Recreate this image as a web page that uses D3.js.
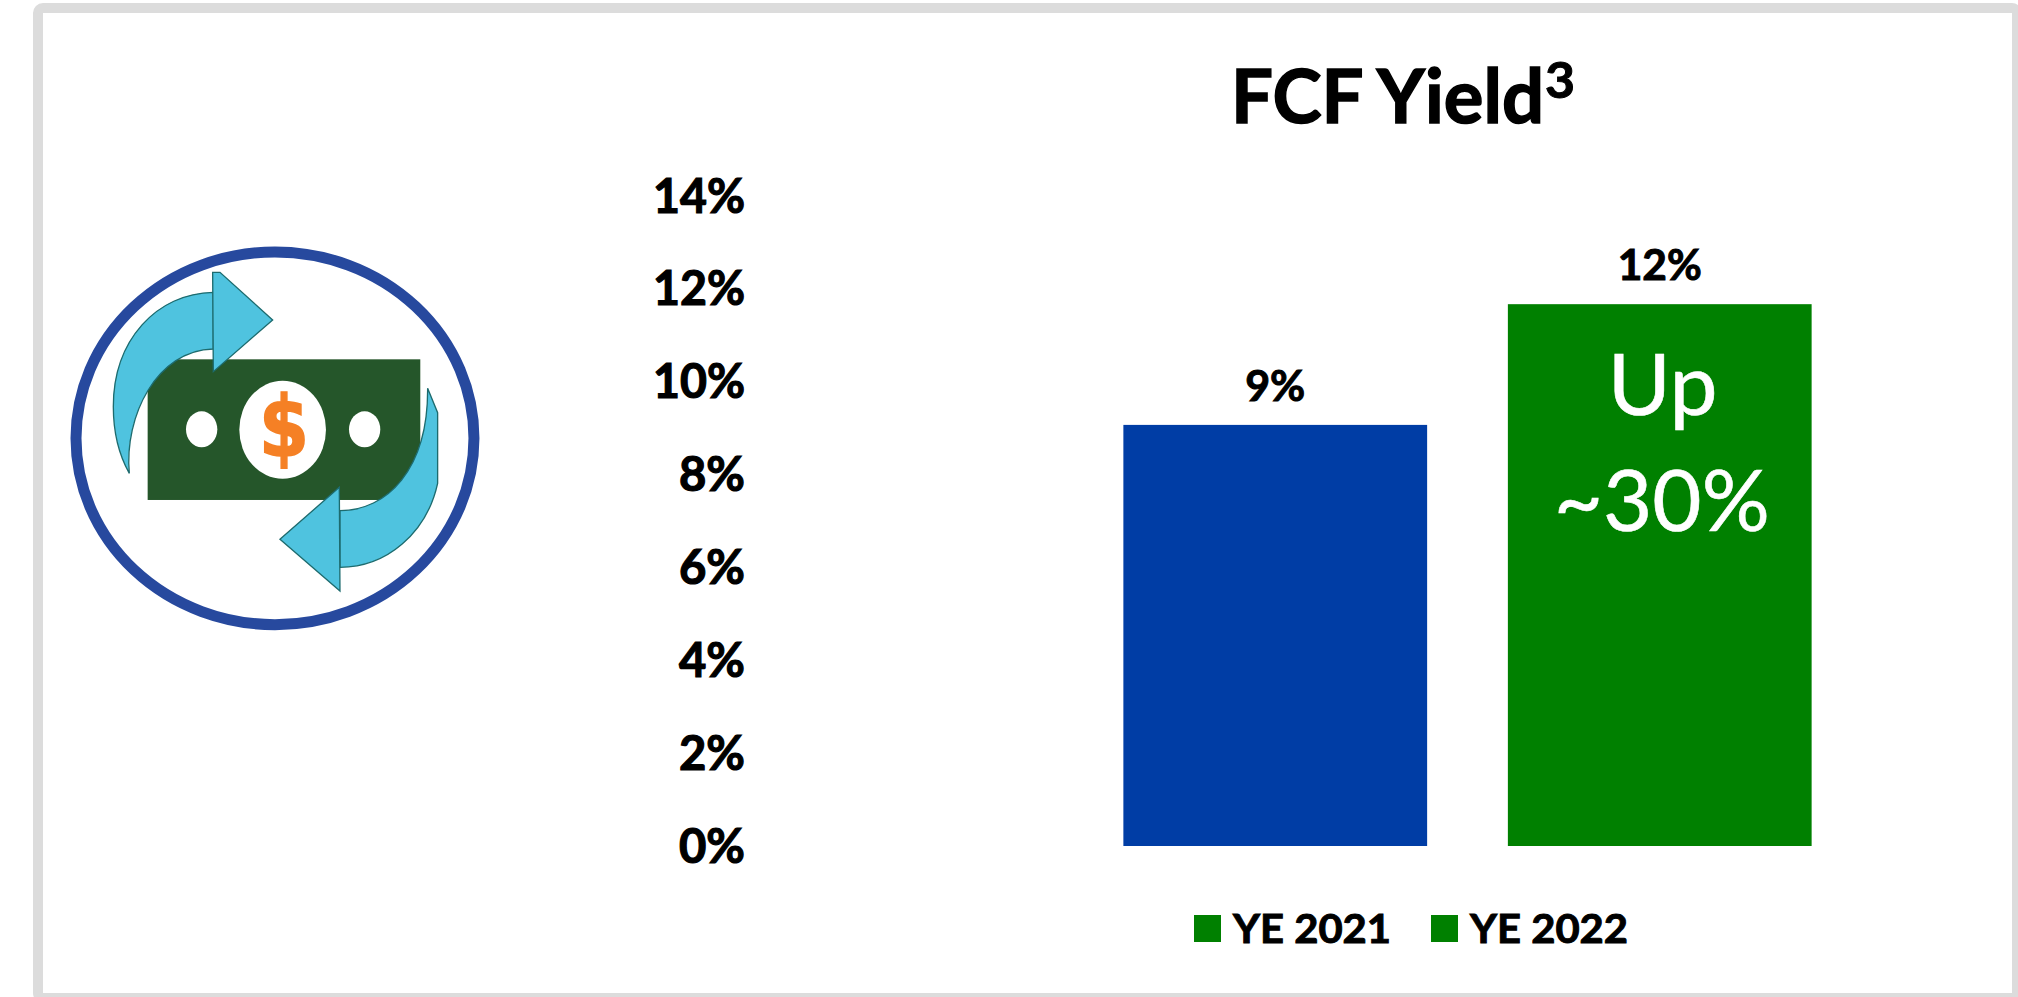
<!DOCTYPE html>
<html>
<head>
<meta charset="utf-8">
<script src="https://cdn.jsdelivr.net/npm/d3@7"></script>
<style>
  html, body { margin: 0; padding: 0; background: #fff; }
  svg { display: block; }
  text { font-family: Lato, "Open Sans", sans-serif; }
</style>
</head>
<body>
<div id="graph"></div>
<script>
const WIDTH = 2018, HEIGHT = 997;

// data
const categories = ["YE 2021", "YE 2022"];
const values = [9.07, 11.67];
const valueLabels = ["9%", "12%"];
const barColors = ["#003da5", "#008000"];
const legendColor = "#008000";
const yTicks = [0, 2, 4, 6, 8, 10, 12, 14];

let svg = d3.select("#graph")
    .append("svg")
    .attr("width", WIDTH)
    .attr("height", HEIGHT);

svg.append("rect").attr("width", WIDTH).attr("height", HEIGHT).attr("fill", "#fff");

// grey frame round the slide, runs off the page on the right and bottom
svg.append("rect")
    .attr("x", 38).attr("y", 8)
    .attr("width", 1979).attr("height", 990)
    .attr("rx", 5)
    .attr("fill", "none")
    .attr("stroke", "#dcdcdc")
    .attr("stroke-width", 10);

let x = d3.scaleBand()
    .domain(categories)
    .range([1083, 1852])
    .paddingInner(0.21)
    .paddingOuter(0.105);

let y = d3.scaleLinear()
    .domain([0, 14])
    .range([846, 196]);

// squeezes a text to the width it has in the reference
function fit(sel, width) {
    return sel.attr("textLength", width).attr("lengthAdjust", "spacingAndGlyphs");
}

// Lato bold is lighter than the original face, a thin outline makes up for it
function heavy(sel, w) {
    return sel.attr("stroke", "#000").attr("stroke-width", w);
}

// y axis, labels only
let yAxis = svg.append("g")
    .attr("transform", "translate(746, 0)")
    .call(d3.axisLeft(y).tickValues(yTicks).tickSize(0).tickPadding(1).tickFormat(d => d + "%"));
yAxis.select(".domain").remove();
heavy(yAxis.selectAll("text"), 1.2)
    .style("font-family", "Lato")
    .style("font-size", "48px")
    .style("font-weight", 700)
    .attr("fill", "#000")
    .attr("dy", 16)
    .attr("textLength", d => d >= 10 ? 92 : 66)
    .attr("lengthAdjust", "spacingAndGlyphs");

// bars
svg.selectAll(".bar")
    .data(categories)
    .enter()
    .append("rect")
    .attr("class", "bar")
    .attr("x", d => x(d))
    .attr("y", (d, i) => y(values[i]))
    .attr("width", x.bandwidth())
    .attr("height", (d, i) => y(0) - y(values[i]))
    .attr("fill", (d, i) => barColors[i]);

// value labels
const labelWidths = [60, 84];
heavy(svg.selectAll(".count")
    .data(categories)
    .enter()
    .append("text")
    .attr("class", "count")
    .attr("x", d => x(d) + x.bandwidth() / 2)
    .attr("y", (d, i) => y(values[i]) - 24)
    .style("text-anchor", "middle")
    .style("font-size", "42px")
    .style("font-weight", 700)
    .attr("textLength", (d, i) => labelWidths[i])
    .attr("lengthAdjust", "spacingAndGlyphs")
    .text((d, i) => valueLabels[i]), 1);

// title
heavy(fit(svg.append("text")
    .attr("x", 1231)
    .attr("y", 123)
    .style("font-size", "75px")
    .style("font-weight", 700)
    .text("FCF Yield"), 313), 1.5);
heavy(fit(svg.append("text")
    .attr("x", 1545)
    .attr("y", 98)
    .style("font-size", "50px")
    .style("font-weight", 700)
    .text("3"), 30), 1);

// callout inside the green bar
const calloutX = x(categories[1]) + x.bandwidth() / 2;
fit(svg.append("text")
    .attr("x", calloutX + 3)
    .attr("y", 415)
    .style("text-anchor", "middle")
    .style("font-size", "85px")
    .style("font-weight", 400)
    .attr("fill", "#fff")
    .attr("stroke", "#fff")
    .attr("stroke-width", 0.6)
    .text("Up"), 110);
fit(svg.append("text")
    .attr("x", calloutX + 2)
    .attr("y", 531)
    .style("text-anchor", "middle")
    .style("font-size", "85px")
    .style("font-weight", 400)
    .attr("fill", "#fff")
    .attr("stroke", "#fff")
    .attr("stroke-width", 0.6)
    .text("~30%"), 216);

// legend
const legendX = [1194, 1431];
categories.forEach(function(c, i) {
    svg.append("rect")
        .attr("x", legendX[i]).attr("y", 915)
        .attr("width", 27).attr("height", 27)
        .attr("fill", legendColor);
    heavy(fit(svg.append("text")
        .attr("x", legendX[i] + 39)
        .attr("y", 943)
        .style("font-size", "41px")
        .style("font-weight", 700)
        .text(c), 158), 1);
});

// icon, coordinates are in 3x pixels of the cropped logo
let icon = svg.append("g").attr("transform", "translate(50, 230) scale(0.3333)");
const billGreen = "#25562a", arrowBlue = "#4fc3df", arrowEdge = "#1d6b6e";

icon.append("ellipse")
    .attr("cx", 675).attr("cy", 625).attr("rx", 597).attr("ry", 559)
    .attr("fill", "#fff").attr("stroke", "#27499e").attr("stroke-width", 33);

icon.append("rect")
    .attr("x", 293).attr("y", 388).attr("width", 818).attr("height", 422)
    .attr("fill", billGreen);
icon.append("ellipse")
    .attr("cx", 698).attr("cy", 599).attr("rx", 130).attr("ry", 147).attr("fill", "#fff");
icon.append("ellipse")
    .attr("cx", 455).attr("cy", 598).attr("rx", 47).attr("ry", 54).attr("fill", "#fff");
icon.append("ellipse")
    .attr("cx", 944).attr("cy", 598).attr("rx", 47).attr("ry", 54).attr("fill", "#fff");
icon.append("text")
    .attr("x", 702).attr("y", 677)
    .style("text-anchor", "middle")
    .style("font-family", "'DejaVu Sans'")
    .style("font-size", "250px")
    .style("font-weight", 700)
    .attr("fill", "#f58025")
    .attr("stroke", "#f58025")
    .attr("stroke-width", 5)
    .attr("textLength", 150)
    .attr("lengthAdjust", "spacingAndGlyphs")
    .text("$");

// arrow bodies first, the heads sit on top with their own outline
icon.append("path")
    .attr("d", "M490,187 C320,190 190,330 190,530 C190,610 210,680 238,730 C222,560 320,360 490,357 Z")
    .attr("fill", arrowBlue).attr("stroke", arrowEdge).attr("stroke-width", 4);
icon.append("path")
    .attr("d", "M488,127 L510,127 L668,270 L490,425 Z")
    .attr("fill", arrowBlue).attr("stroke", arrowEdge).attr("stroke-width", 4);
icon.append("path")
    .attr("d", "M870,842 C1010,842 1135,720 1133,475 L1163,548 L1163,760 C1130,910 1010,1012 870,1012 Z")
    .attr("fill", arrowBlue).attr("stroke", arrowEdge).attr("stroke-width", 4);
icon.append("path")
    .attr("d", "M868,772 L690,928 L870,1083 Z")
    .attr("fill", arrowBlue).attr("stroke", arrowEdge).attr("stroke-width", 4);
</script>
</body>
</html>
